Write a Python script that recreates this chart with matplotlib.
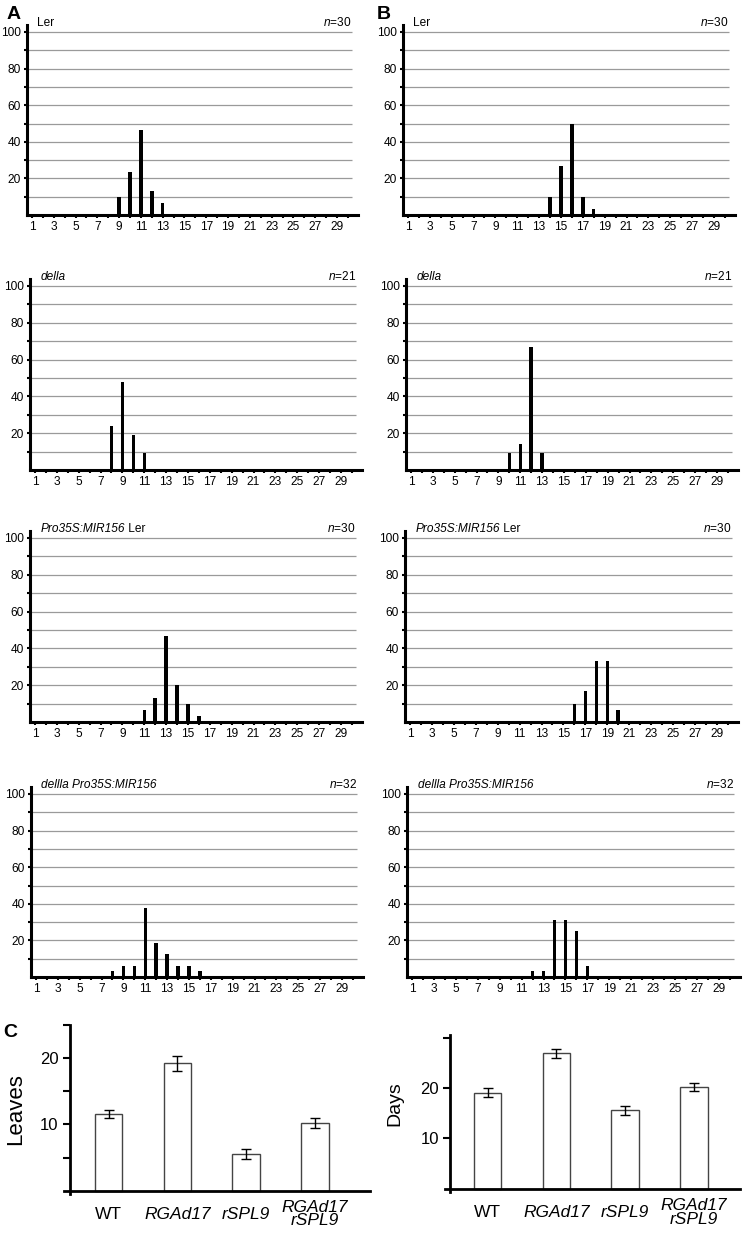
import matplotlib
matplotlib.use("Agg")
import matplotlib.pyplot as plt
import numpy as np

plt.rcParams['font.family'] = ['Liberation Sans', 'DejaVu Sans']
plt.rcParams['mathtext.fontset'] = 'custom'
plt.rcParams['mathtext.rm'] = 'Liberation Sans'
plt.rcParams['mathtext.it'] = 'Liberation Sans:italic'

# ---------------- data ----------------
positions = np.arange(1, 31)

# Panel A (leaf number distributions, % of plants)
A_ler_x = [9, 10, 11, 12, 13]
A_ler_y = [10.0, 23.3, 46.7, 13.3, 6.7]
A_della_x = [8, 9, 10, 11]
A_della_y = [23.8, 47.6, 19.0, 9.5]
A_mir_x = [11, 12, 13, 14, 15, 16]
A_mir_y = [6.7, 13.3, 46.7, 20.0, 10.0, 3.3]
A_dmir_x = [8, 9, 10, 11, 12, 13, 14, 15, 16]
A_dmir_y = [3.1, 6.25, 6.25, 37.5, 18.75, 12.5, 6.25, 6.25, 3.1]

# Panel B (days distributions, % of plants)
B_ler_x = [14, 15, 16, 17, 18]
B_ler_y = [10.0, 26.7, 50.0, 10.0, 3.3]
B_della_x = [10, 11, 12, 13]
B_della_y = [9.5, 14.3, 66.7, 9.5]
B_mir_x = [16, 17, 18, 19, 20]
B_mir_y = [10.0, 16.7, 33.3, 33.3, 6.7]
B_dmir_x = [12, 13, 14, 15, 16, 17]
B_dmir_y = [3.1, 3.1, 31.25, 31.25, 25.0, 6.25]

# (italic part, normal part) of each panel title
titles_it = ["", "della", "Pro35S:MIR156", "dellla Pro35S:MIR156"]
titles_rm = ["Ler", "", " Ler", ""]
ns = ["30", "21", "30", "32"]

# Panel C
C_genotypes = ["WT", "RGAd17", "rSPL9", "RGAd17\nrSPL9"]
C_leaves = [11.6, 19.2, 5.5, 10.2]
C_leaves_err = [0.6, 1.1, 0.75, 0.8]
C_days = [19.1, 26.9, 15.6, 20.2]
C_days_err = [0.85, 0.9, 0.85, 0.85]

# ---------------- layout ----------------
W, H = 747, 1234
fig = plt.figure(figsize=(W / 100, H / 100), dpi=100)


def add_ax(l, t, r, b):
    return fig.add_axes([l / W, 1 - b / H, (r - l) / W, (b - t) / H])


y100 = [32, 286, 538, 794]
ybase = [215, 470, 722, 977]
A_left = [27, 30, 30, 31]
A_right = [358, 362, 362, 363]
B_left = [403, 406, 405, 407]
B_right = [735, 738, 738, 740]
YTOP = 104.0
FS = 8.6

A_data = [(A_ler_x, A_ler_y), (A_della_x, A_della_y), (A_mir_x, A_mir_y), (A_dmir_x, A_dmir_y)]
B_data = [(B_ler_x, B_ler_y), (B_della_x, B_della_y), (B_mir_x, B_mir_y), (B_dmir_x, B_dmir_y)]


def hist_panel(ax, xs, ys, t_it, t_rm, n):
    ax.set_xlim(0.54, 30.93)
    ax.set_ylim(0, YTOP)
    ax.hlines(np.arange(10, 101, 10), 0.54, 30.36, colors='#9a9a9a', lw=0.9, zorder=1)
    ax.bar(xs, ys, width=0.32, color='black', zorder=3)
    for s in ['top', 'right']:
        ax.spines[s].set_visible(False)
    for s in ['left', 'bottom']:
        ax.spines[s].set_linewidth(2.2)
        ax.spines[s].set_zorder(4)
    ax.set_yticks([20, 40, 60, 80, 100])
    ax.set_yticklabels(['20', '40', '60', '80', '100'])
    ax.set_yticks([10, 30, 50, 70, 90], minor=True)
    ax.set_xticks(positions)
    ax.set_xticklabels([str(p) if p % 2 == 1 else '' for p in positions])
    ax.tick_params(axis='both', which='both', direction='out', length=2.5, width=1.5,
                   labelsize=FS, pad=2)
    t1 = ax.text(1.5, 101.5, t_it, fontsize=FS, style='italic', ha='left', va='bottom')
    if t_rm:
        ax.annotate(t_rm, xy=(1, 0), xycoords=t1, fontsize=FS, ha='left', va='bottom')
    ax.text(30.36, 101.5, r"$\mathit{n}$=" + n, fontsize=FS, ha='right', va='bottom')


for i in range(4):
    top = ybase[i] - YTOP * (ybase[i] - y100[i]) / 100.0
    axA = add_ax(A_left[i], top, A_right[i], ybase[i])
    hist_panel(axA, A_data[i][0], A_data[i][1], titles_it[i], titles_rm[i], ns[i])
    axB = add_ax(B_left[i], top, B_right[i], ybase[i])
    hist_panel(axB, B_data[i][0], B_data[i][1], titles_it[i], titles_rm[i], ns[i])

fig.text(7 / W, 1 - 6 / H, "A", fontsize=14, fontweight='bold', ha='left', va='top')
fig.text(377 / W, 1 - 6 / H, "B", fontsize=14, fontweight='bold', ha='left', va='top')
fig.text(3 / W, 1 - 1024 / H, "C", fontsize=14, fontweight='bold', ha='left', va='top')


def bar_panel(ax, vals, errs, ylim, yticks, ylabels, ylabel, ylsize, xlim, spine_x):
    x = np.arange(len(vals))
    ax.bar(x, vals, width=0.4, facecolor='white', edgecolor='#444444', linewidth=1.0, zorder=2)
    ax.errorbar(x, vals, yerr=errs, fmt='none', ecolor='black', elinewidth=1.0,
                capsize=3.5, capthick=1.0, zorder=3)
    ax.set_xlim(*xlim)
    ax.set_ylim(*ylim)
    for s in ['top', 'right']:
        ax.spines[s].set_visible(False)
    ax.spines['left'].set_position(('data', spine_x))
    ax.spines['bottom'].set_position(('data', 0))
    for s in ['left', 'bottom']:
        ax.spines[s].set_linewidth(2.0)
    ax.set_yticks(yticks)
    ax.set_yticklabels(ylabels)
    ax.tick_params(axis='y', direction='out', length=5, width=1.5, labelsize=12, pad=3)
    ax.set_xticks(x)
    ax.set_xticklabels(C_genotypes)
    ax.tick_params(axis='x', length=0, pad=17)
    for lab, txt in zip(ax.get_xticklabels(), C_genotypes):
        lab.set_fontsize(12.5)
        lab.set_verticalalignment('center')
        lab.set_linespacing(0.85)
        if txt != "WT":
            lab.set_fontstyle('italic')
    ax.set_ylabel(ylabel, fontsize=ylsize)


axC1 = add_ax(64, 1025, 370, 1194)
bar_panel(axC1, C_leaves, C_leaves_err, (-0.5, 25), [5, 10, 15, 20, 25],
          ['', '10', '', '20', ''], "Leaves", 16, (-0.65, 3.8), -0.568)
axC1.yaxis.set_label_coords(-0.125, 0.5)

axC2 = add_ax(445, 1035, 740, 1192)
bar_panel(axC2, C_days, C_days_err, (-0.6, 30.5), [10, 20, 30],
          ['10', '20', ''], "Days", 14, (-0.62, 3.67), -0.545)
axC2.yaxis.set_label_coords(-0.14, 0.56)

fig.savefig("out.png", dpi=100)
